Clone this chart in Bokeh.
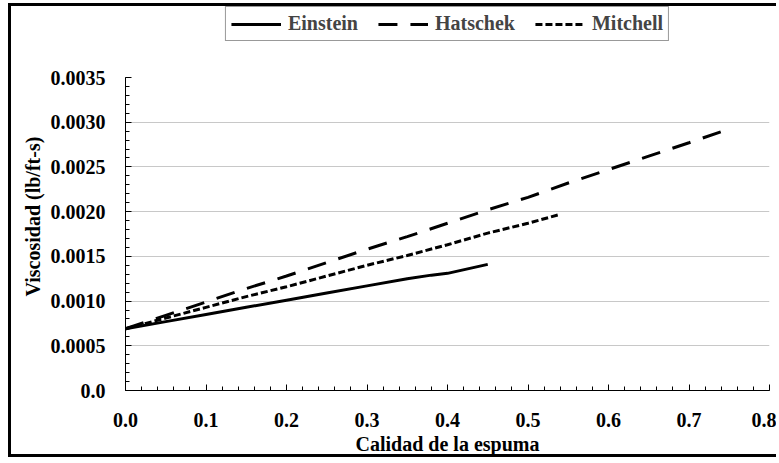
from bokeh.plotting import figure
from bokeh.models import FixedTicker, Legend, LegendItem, Title
from bokeh.embed import file_html
from bokeh.resources import INLINE

# --- data ---
einstein_x = [0.0, 0.05, 0.10, 0.15, 0.20, 0.25, 0.30, 0.35, 0.38, 0.40, 0.45]
einstein_y = [0.00069, 0.00077, 0.00085, 0.00093, 0.00101, 0.00109, 0.00117, 0.00125, 0.00129, 0.00131, 0.00141]

hatschek_x = [0.0, 0.05, 0.10, 0.15, 0.20, 0.25, 0.30, 0.35, 0.40, 0.45, 0.50, 0.55, 0.60, 0.65, 0.70, 0.745]
hatschek_y = [0.00069, 0.00084, 0.00099, 0.00114, 0.00128, 0.00143, 0.00158, 0.00172, 0.00187, 0.00202, 0.00216, 0.00232, 0.00247, 0.00262, 0.00277, 0.00291]

mitchell_x = [0.0, 0.05, 0.10, 0.15, 0.20, 0.25, 0.30, 0.35, 0.40, 0.45, 0.50, 0.54]
mitchell_y = [0.00069, 0.00081, 0.00093, 0.00105, 0.00116, 0.00128, 0.00140, 0.00151, 0.00163, 0.00176, 0.00187, 0.00197]

x_ticks = [0.0, 0.1, 0.2, 0.3, 0.4, 0.5, 0.6, 0.7, 0.8]
x_tick_labels = ["0.0", "0.1", "0.2", "0.3", "0.4", "0.5", "0.6", "0.7", "0.8"]
y_ticks = [0.0, 0.0005, 0.0010, 0.0015, 0.0020, 0.0025, 0.0030, 0.0035]
y_tick_labels = ["0.0", "0.0005", "0.0010", "0.0015", "0.0020", "0.0025", "0.0030", "0.0035"]

x_title = "Calidad de la espuma"
y_title = "Viscosidad (lb/ft-s)"

FONT = "Liberation Serif"
FS = "20px"

W, H = 768, 454
Y_MAX = 0.0035
# frame extends above the y axis up to the border so the legend can sit at the top
y_top = Y_MAX * 384.0 / 313.0

p = figure(width=W, height=H, output_backend="svg", toolbar_location=None,
           x_range=(0.0, 0.8), y_range=(0.0, y_top),
           min_border_left=114, min_border_right=10, min_border_top=0, min_border_bottom=70)
p.margin = (3, 0, 0, 8)
p.styles = {"border-left": "3px solid black", "border-top": "3px solid black",
            "border-bottom": "3px solid black"}
p.outline_line_color = None
p.background_fill_color = "white"
p.border_fill_color = "white"

r1 = p.line(einstein_x, einstein_y, line_color="black", line_width=3)
r2 = p.line(hatschek_x, hatschek_y, line_color="black", line_width=3, line_dash="19 13")
r3 = p.line(mitchell_x, mitchell_y, line_color="black", line_width=3, line_dash="7 3")

# axes
minor_x = [round(i * 0.02, 4) for i in range(0, 41)]
minor_y = [round(i * 0.0001, 5) for i in range(0, 36)]
p.xaxis.ticker = FixedTicker(ticks=x_ticks, minor_ticks=minor_x)
p.yaxis.ticker = FixedTicker(ticks=y_ticks, minor_ticks=minor_y)
p.xaxis.major_label_overrides = {t: l for t, l in zip(x_ticks, x_tick_labels)}
p.yaxis.major_label_overrides = {t: l for t, l in zip(y_ticks, y_tick_labels)}
p.yaxis.bounds = (0.0, Y_MAX)

for ax in (p.xaxis[0], p.yaxis[0]):
    ax.axis_line_color = "black"
    ax.axis_line_width = 1
    ax.major_tick_line_color = "black"
    ax.minor_tick_line_color = "black"
    ax.major_tick_in = 6
    ax.major_tick_out = 0
    ax.minor_tick_in = 4
    ax.minor_tick_out = 0
    ax.major_label_text_font = FONT
    ax.major_label_text_font_style = "bold"
    ax.major_label_text_font_size = FS
    ax.major_label_text_color = "black"
    ax.axis_label_text_font = FONT
    ax.axis_label_text_font_style = "bold"
    ax.axis_label_text_font_size = FS
    ax.axis_label_text_color = "black"

p.xaxis.axis_label = x_title
p.xaxis.major_label_standoff = 22
p.yaxis.major_label_standoff = 20
p.xaxis.axis_label_standoff = 3

# y-axis title as a left-side title so it can be shifted along the axis
yt = Title(text=y_title, align="left", offset=94, standoff=8,
           text_font=FONT, text_font_style="bold", text_font_size=FS, text_color="black")
p.add_layout(yt, "left")

p.xgrid.visible = False
p.ygrid.ticker = FixedTicker(ticks=[0.0005, 0.0010, 0.0015, 0.0020, 0.0025, 0.0030])
p.ygrid.grid_line_color = "#c8c8c8"
p.ygrid.grid_line_width = 1

legend = Legend(items=[LegendItem(label="Einstein", renderers=[r1]),
                       LegendItem(label="Hatschek", renderers=[r2]),
                       LegendItem(label="Mitchell", renderers=[r3])],
                orientation="horizontal", location="top_center")
legend.glyph_width = 50
legend.glyph_height = 20
legend.label_height = 20
legend.label_text_font = FONT
legend.label_text_font_style = "bold"
legend.label_text_font_size = FS
legend.label_standoff = 7
legend.spacing = 20
legend.padding = 5
legend.margin = 0
legend.border_line_color = "#333333"
legend.border_line_width = 1
legend.background_fill_color = "white"
legend.background_fill_alpha = 1.0
p.add_layout(legend, "center")

open("out.html", "w").write(file_html(p, INLINE))
